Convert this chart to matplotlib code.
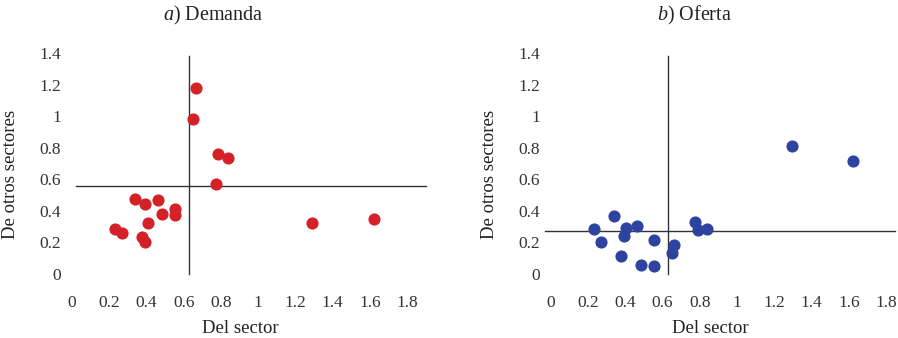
import matplotlib
matplotlib.use("Agg")
import matplotlib.pyplot as plt

plt.rcParams['font.family'] = ['Liberation Serif', 'DejaVu Serif']
plt.rcParams['mathtext.fontset'] = 'custom'
plt.rcParams['mathtext.rm'] = 'Liberation Serif'
plt.rcParams['mathtext.it'] = 'Liberation Serif:italic'

# Data
demanda_x = [0.663, 0.650, 0.785, 0.835, 0.772, 0.338, 0.391, 0.459, 0.552, 0.552,
             0.484, 0.406, 0.231, 0.270, 0.377, 0.391, 1.287, 1.623]
demanda_y = [1.18, 0.985, 0.76, 0.736, 0.568, 0.473, 0.447, 0.468, 0.411, 0.373,
             0.382, 0.323, 0.283, 0.259, 0.236, 0.204, 0.323, 0.346]
oferta_x = [1.293, 1.624, 0.338, 0.233, 0.269, 0.403, 0.394, 0.462, 0.553, 0.380,
            0.485, 0.553, 0.664, 0.650, 0.774, 0.788, 0.838]
oferta_y = [0.810, 0.717, 0.368, 0.283, 0.205, 0.290, 0.243, 0.303, 0.216, 0.114,
            0.055, 0.049, 0.182, 0.135, 0.332, 0.277, 0.287]
demanda_vline = 0.627
demanda_hline = 0.557
oferta_vline = 0.629
oferta_hline = 0.275
xticks = [0, 0.2, 0.4, 0.6, 0.8, 1, 1.2, 1.4, 1.6, 1.8]
xticklabels = ['0', '0.2', '0.4', '0.6', '0.8', '1', '1.2', '1.4', '1.6', '1.8']
yticks = [0, 0.2, 0.4, 0.6, 0.8, 1, 1.2, 1.4]
yticklabels = ['0', '0.2', '0.4', '0.6', '0.8', '1', '1.2', '1.4']

W, H = 898, 338
fig = plt.figure(figsize=(W / 100, H / 100), dpi=100)

unit_x = 186.3
unit_y = 157.7
y0_px = 274
xmin, xmax = -0.05, 1.95
ymin, ymax = -0.02, 1.45


def make_ax(x0_px):
    left = (x0_px + xmin * unit_x) / W
    width = (xmax - xmin) * unit_x / W
    bottom = (H - y0_px + ymin * unit_y) / H
    height = (ymax - ymin) * unit_y / H
    return fig.add_axes([left, bottom, width, height])


panels = [
    (72, demanda_x, demanda_y, demanda_vline, demanda_hline, (0.02, 1.9),
     '#D42027', r'$\mathit{a)}$ Demanda', 0.403, 0.476),
    (550.7, oferta_x, oferta_y, oferta_vline, oferta_hline, (-0.03, 1.85),
     '#2E43A0', r'$\mathit{b)}$ Oferta', 0.41, 0.454),
]

for x0_px, xs, ys, vl, hl, hext, color, title, tx, lx in panels:
    ax = make_ax(x0_px)
    ax.set_xlim(xmin, xmax)
    ax.set_ylim(ymin, ymax)
    for s in ax.spines.values():
        s.set_visible(False)
    ax.plot([vl, vl], [0, 1.38], color='#333333', lw=1.0, zorder=1)
    ax.plot(list(hext), [hl, hl], color='#333333', lw=1.0, zorder=1)
    ax.scatter(xs, ys, s=60, color=color, edgecolors=color, zorder=3)
    ax.set_xticks(xticks)
    ax.set_xticklabels(xticklabels)
    ax.set_yticks(yticks)
    ax.set_yticklabels(yticklabels)
    ax.tick_params(axis='x', length=0, pad=12.5, labelsize=12.5, colors='#333333')
    ax.tick_params(axis='y', length=0, pad=1, labelsize=12.5, colors='#333333')
    ax.set_xlabel('Del sector', fontsize=13.5, color='#222222')
    ax.xaxis.set_label_coords(lx, -0.185)
    ax.set_ylabel('De otros sectores', fontsize=13.5, color='#222222')
    ax.yaxis.set_label_coords(-0.117, 0.441)
    ax.set_title(title, fontsize=14.5, pad=18, color='#222222', x=tx)

fig.savefig('out.png', dpi=100)
